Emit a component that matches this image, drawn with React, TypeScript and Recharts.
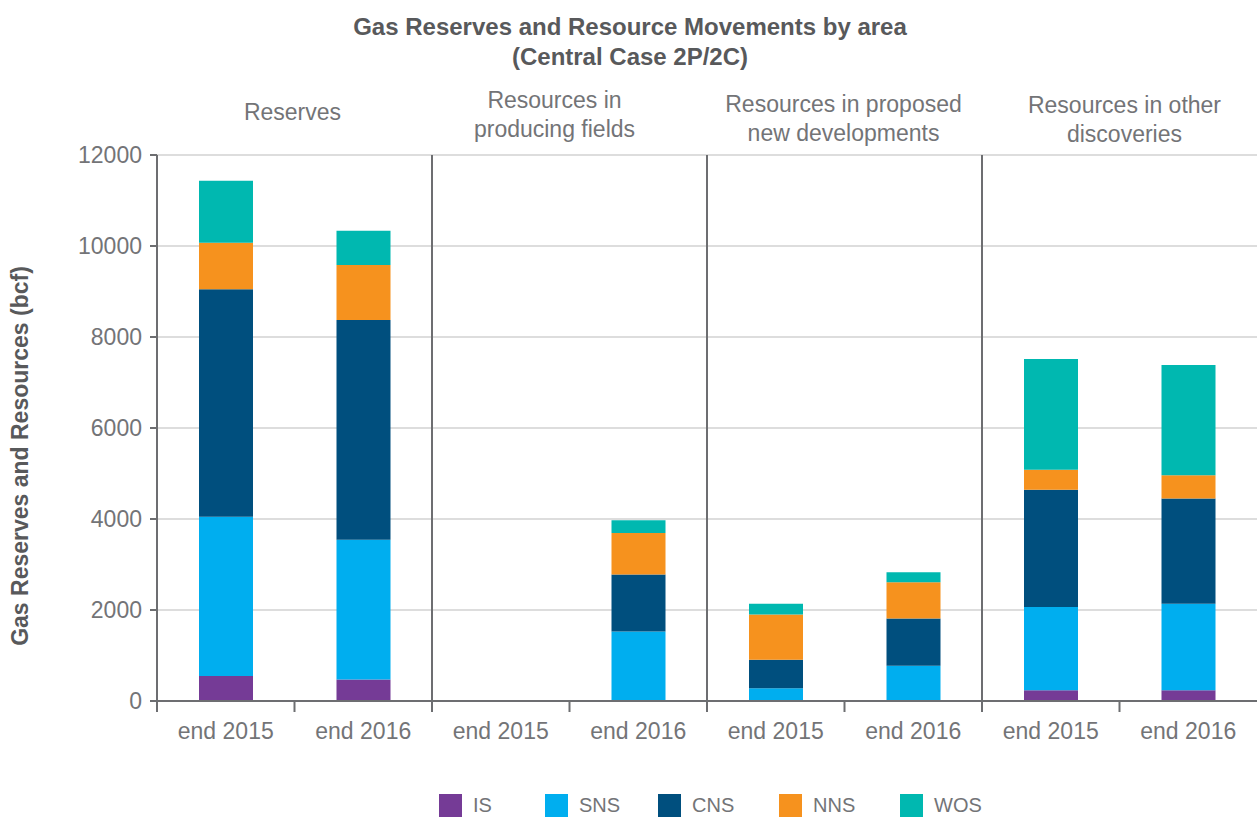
import { BarChart, Bar, XAxis, YAxis, CartesianGrid, ReferenceLine, Legend, Label } from "recharts";

const periods = ["end 2015", "end 2016", "end 2015", "end 2016", "end 2015", "end 2016", "end 2015", "end 2016"];
const groups = [
  ["Reserves"],
  ["Resources in", "producing fields"],
  ["Resources in proposed", "new developments"],
  ["Resources in other", "discoveries"],
];
const IS = [547, 473, 0, 0, 0, 0, 235, 235];
const SNS = [3500, 3070, 0, 1530, 280, 777, 1830, 1900];
const CNS = [5005, 4830, 0, 1250, 625, 1035, 2580, 2315];
const NNS = [1020, 1210, 0, 910, 995, 800, 440, 510];
const WOS = [1360, 750, 0, 280, 235, 215, 2430, 2425];
const yTicks = [0, 2000, 4000, 6000, 8000, 10000, 12000];

const series = [
  { key: "IS", values: IS, color: "#753b96" },
  { key: "SNS", values: SNS, color: "#00aeef" },
  { key: "CNS", values: CNS, color: "#004f7e" },
  { key: "NNS", values: NNS, color: "#f6921e" },
  { key: "WOS", values: WOS, color: "#00b8b0" },
];

const data = periods.map((p, i) => {
  const row: Record<string, number | string> = { id: i, period: p };
  series.forEach((s) => (row[s.key] = s.values[i]));
  return row;
});

const GREY = "#6d6e71";
const TEXT = "#737477";
const FONT = "'Liberation Sans', Arial, sans-serif";
// small nudges so the group headers sit where the original put them
const headerDx = [-2, -15, -1, 5];
const headerDy = [0, -4, 0, 1];
const legendWidths = [106, 113, 121, 121, 90];

// header drawn on the first category of each pair, centred on the pair
function GroupTick({ x, payload }: any) {
  if (payload.value % 2 !== 0) return null;
  const idx = payload.value / 2;
  const lines = groups[idx];
  const cx = x + (payload.offset || 0) + headerDx[idx];
  const y0 = (lines.length === 1 ? 120 : 112) + headerDy[idx];
  return (
    <text x={cx} y={y0} textAnchor="middle" fill={TEXT} fontSize={23} fontFamily={FONT}>
      {lines.map((l, i) => (
        <tspan key={i} x={cx} dy={i === 0 ? 0 : 29}>
          {l}
        </tspan>
      ))}
    </text>
  );
}

// period label plus a tick mark on the left edge of each category band
function PeriodTick({ x, y, payload }: any) {
  const left = x - (payload.offset || 0);
  return (
    <g>
      <line x1={left} x2={left} y1={701} y2={712} stroke={GREY} strokeWidth={2} />
      <text x={x} y={y} dy={26} textAnchor="middle" fill={TEXT} fontSize={23} fontFamily={FONT}>
        {periods[payload.value]}
      </text>
    </g>
  );
}

function LegendBox() {
  return (
    <div style={{ display: "flex", height: 30, alignItems: "center", paddingLeft: 439 }}>
      {series.map((s, i) => (
        <div key={s.key} style={{ display: "flex", alignItems: "center", width: legendWidths[i] }}>
          <span style={{ width: 23, height: 23, background: s.color, display: "inline-block", marginRight: 11 }} />
          <span style={{ color: TEXT, fontSize: 20, fontFamily: FONT }}>{s.key}</span>
        </div>
      ))}
    </div>
  );
}

export default function App() {
  return (
    <div style={{ position: "absolute", left: 0, top: 0, width: 1257, height: 820, background: "#fff" }}>
      <div
        style={{
          position: "absolute",
          left: 0,
          top: 12,
          width: 1260,
          textAlign: "center",
          fontFamily: FONT,
          fontWeight: 700,
          fontSize: 24,
          lineHeight: "30px",
          color: "#58595b",
          zIndex: 2,
        }}
      >
        Gas Reserves and Resource Movements by area
        <br />
        (Central Case 2P/2C)
      </div>
      <BarChart width={1257} height={820} data={data} margin={{ top: 85, right: 0, bottom: 0, left: 0 }} barSize={54}>
        <CartesianGrid vertical={false} stroke="#d2d2d2" strokeWidth={1.5} xAxisId="cat" />
        <XAxis
          xAxisId="top"
          orientation="top"
          dataKey="id"
          axisLine={false}
          tickLine={false}
          interval={0}
          height={70}
          tick={<GroupTick />}
        />
        <XAxis
          xAxisId="cat"
          dataKey="id"
          interval={0}
          stroke={GREY}
          strokeWidth={2}
          tickLine={false}
          tickSize={0}
          tickMargin={12}
          height={89}
          tick={<PeriodTick />}
        />
        <YAxis
          domain={[0, 12000]}
          ticks={yTicks}
          width={157}
          interval={0}
          tickSize={7}
          tickMargin={8}
          stroke={GREY}
          strokeWidth={2}
          tick={{ fill: TEXT, fontSize: 23, fontFamily: FONT }}
        >
          <Label
            content={() => (
              <text
                x={22}
                y={456}
                transform="rotate(-90 22 456)"
                textAnchor="middle"
                dominantBaseline="middle"
                fill="#58595b"
                fontSize={23}
                fontWeight={700}
                fontFamily={FONT}
              >
                Gas Reserves and Resources (bcf)
              </text>
            )}
          />
        </YAxis>
        {[2, 4, 6].map((x) => (
          <ReferenceLine key={x} xAxisId="cat" x={x} position="start" stroke={GREY} strokeWidth={2} />
        ))}
        {series.map((s) => (
          <Bar key={s.key} xAxisId="cat" dataKey={s.key} stackId="a" fill={s.color} isAnimationActive={false} />
        ))}
        <Legend verticalAlign="bottom" content={<LegendBox />} />
      </BarChart>
    </div>
  );
}
